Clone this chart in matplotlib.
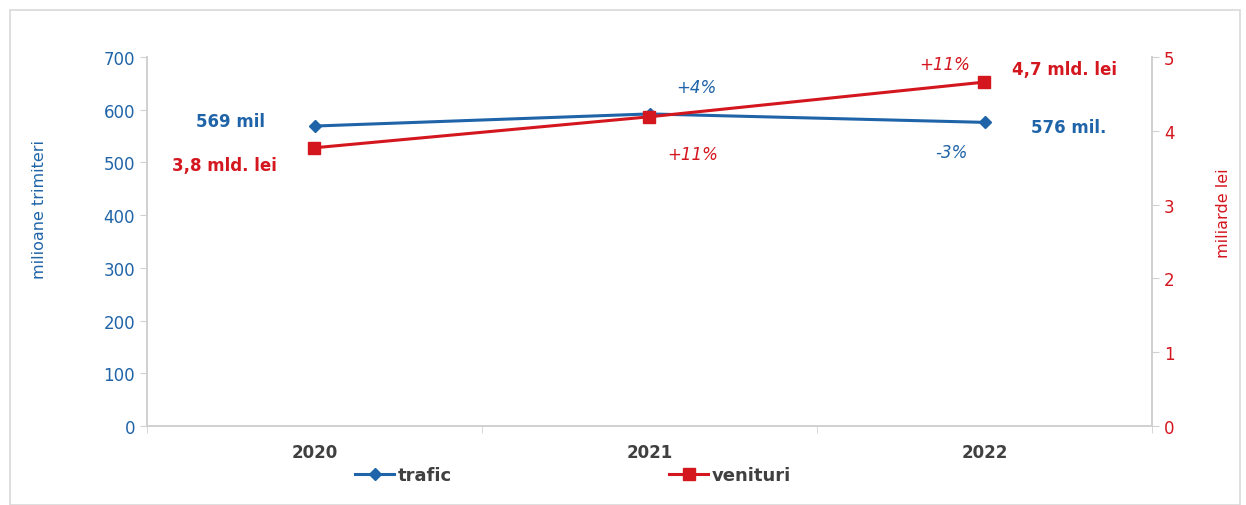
import numpy as np
import matplotlib
matplotlib.use('Agg')
import matplotlib.pyplot as plt
from matplotlib.lines import Line2D
from matplotlib.patches import Rectangle

# data
years = ['2020', '2021', '2022']
trafic = [569, 592, 576]          # milioane trimiteri
venituri = [3.77, 4.19, 4.66]     # miliarde lei

blue = '#1F64A8'
red = '#D4161E'
gray_txt = '#404040'
spine = '#D0D0D0'

plt.rcParams['font.family'] = ['DejaVu Sans']

fig = plt.figure(figsize=(12.46, 5.06), dpi=100)
fig.patches.append(Rectangle((10/1246, 0), 1230/1246, 1 - 11/506, transform=fig.transFigure,
                             fill=False, edgecolor='#D9D9D9', linewidth=1.2))

ax = fig.add_axes([147/1246, 1 - 427/506, (1152-147)/1246, (427-58)/506])
ax2 = ax.twinx()

x = np.arange(len(years))
ax.plot(x, trafic, color=blue, lw=2.2, marker='D', ms=6, zorder=3)
ax2.plot(x, venituri, color=red, lw=2.2, marker='s', ms=9, zorder=3)

ax.set_xlim(-0.5, 2.5)
ax.set_ylim(0, 700)
ax2.set_ylim(0, 5)
ax.set_yticks(range(0, 701, 100))
ax2.set_yticks(range(0, 6))

ax.set_xticks(x)
ax.set_xticklabels(years, fontsize=12, fontweight='bold', color=gray_txt)
ax.set_xticks([-0.5, 0.5, 1.5, 2.5], minor=True)
ax.tick_params(axis='x', which='major', length=0, pad=12)
ax.tick_params(axis='x', which='minor', length=5, color=spine)
ax.tick_params(axis='y', labelsize=12, labelcolor=blue, color=spine, length=5)
ax2.tick_params(axis='y', labelsize=12, labelcolor=red, color=spine, length=5)

for a in (ax, ax2):
    a.spines['top'].set_visible(False)
    for s in ('left', 'right', 'bottom'):
        a.spines[s].set_color(spine)
        a.spines[s].set_linewidth(1.2)

ax.set_ylabel('milioane trimiteri', color=blue, fontsize=11.5)
ax.yaxis.set_label_coords(-0.1, 0.59)
ax2.set_ylabel('miliarde lei', color=red, fontsize=11.5)
ax2.yaxis.set_label_coords(1.064, 0.58)

# value labels
ax.text(-0.25, trafic[0] + 10, '569 mil', color=blue, fontsize=12, fontweight='bold', ha='center', va='center')
ax2.text(-0.27, venituri[0] - 0.24, '3,8 mld. lei', color=red, fontsize=12, fontweight='bold', ha='center', va='center')
ax.text(2.25, trafic[2] - 8, '576 mil.', color=blue, fontsize=12, fontweight='bold', ha='center', va='center')
ax2.text(2.24, venituri[2] + 0.18, '4,7 mld. lei', color=red, fontsize=12, fontweight='bold', ha='center', va='center')
# percent changes
ax.text(1.14, 643, '+4%', color=blue, fontsize=12, style='italic', ha='center', va='center')
ax2.text(1.13, 3.69, '+11%', color=red, fontsize=12, style='italic', ha='center', va='center')
ax2.text(1.88, 4.9, '+11%', color=red, fontsize=12, style='italic', ha='center', va='center')
ax.text(1.9, 520, '-3%', color=blue, fontsize=12, style='italic', ha='center', va='center')

handles = [Line2D([], [], color=blue, lw=2.2, marker='D', ms=6),
           Line2D([], [], color=red, lw=2.2, marker='s', ms=9)]
fig.legend(handles, ['trafic', 'venituri'], loc='center', bbox_to_anchor=(573/1246, 1 - 476/506),
           ncol=2, frameon=False, columnspacing=12, handlelength=2.2, handletextpad=0.2,
           prop={'size': 13, 'weight': 'bold'}, labelcolor=gray_txt)

fig.savefig('out.png', dpi=100)
